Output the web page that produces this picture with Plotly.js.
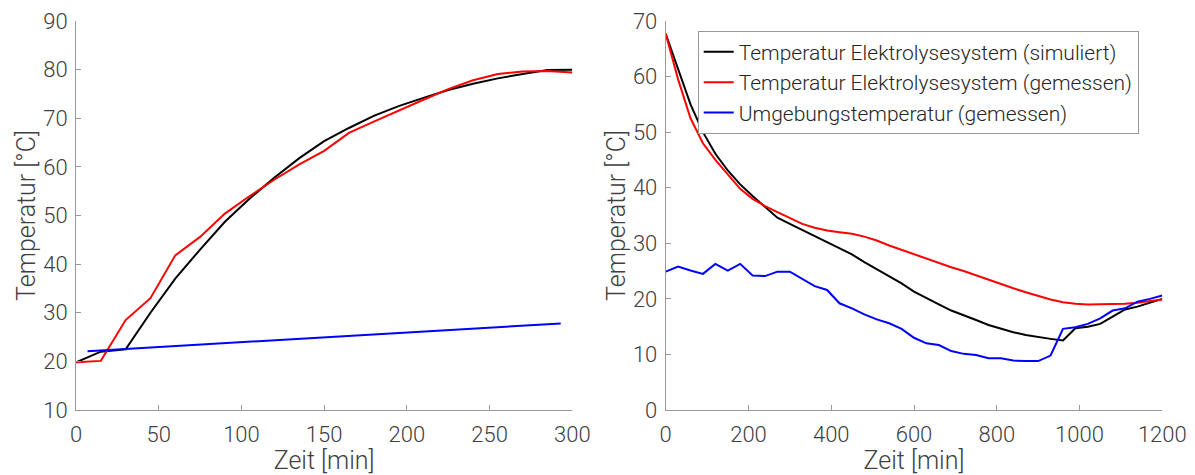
<!DOCTYPE html>
<html>
<head>
<meta charset="utf-8">
<script src="https://cdn.plot.ly/plotly-3.0.1.min.js"></script>
<style>html,body{margin:0;padding:0;background:#fff;}#chart{width:1195px;height:475px;}</style>
</head>
<body>
<div id="chart"></div>
<script>
// ---- Left panel (heating), 15-min steps ----
const leftTime = [0,15,30,45,60,75,90,105,120,135,150,165,180,195,210,225,240,255,270,285,300];
const leftSim  = [19.8,22.0,22.5,30.0,37.0,43.0,48.7,53.5,57.8,61.8,65.3,68.0,70.5,72.5,74.2,75.8,77.1,78.2,79.1,79.9,80.0];
const leftMeas = [19.8,20.1,28.5,33.0,41.8,45.6,50.4,54.0,57.4,60.5,63.3,67.0,69.3,71.6,73.8,76.0,77.8,79.1,79.6,79.7,79.4];
const leftAmbTime = [7,293];
const leftAmb  = [22.1,27.8];

// ---- Right panel (cooling), 30-min steps ----
const rightTime = [0,30,60,90,120,150,180,210,240,270,300,330,360,390,420,450,480,510,540,570,600,630,660,690,720,750,780,810,840,870,900,930,960,990,1020,1050,1080,1110,1140,1170,1200];
const rightSim  = [67.7,61.2,55.0,50.0,46.1,43.1,40.6,38.5,36.6,34.6,33.5,32.4,31.3,30.3,29.2,28.0,26.6,25.3,24.0,22.8,21.3,20.1,19.0,17.9,17.1,16.2,15.3,14.6,14.0,13.5,13.1,12.8,12.5,14.7,15.0,15.5,16.8,18.1,18.6,19.3,20.0];
const rightMeas = [67.7,59.5,52.5,48.0,45.0,42.3,39.8,38.0,36.7,35.6,34.5,33.5,32.8,32.3,32.0,31.7,31.2,30.5,29.6,28.8,28.1,27.3,26.5,25.7,25.0,24.2,23.5,22.7,21.9,21.2,20.5,19.9,19.4,19.1,19.0,19.0,19.0,19.1,19.3,19.6,19.9];
const rightAmb  = [24.9,25.8,25.1,24.5,26.3,25.1,26.3,24.2,24.1,24.9,24.9,23.6,22.3,21.6,19.2,18.3,17.2,16.3,15.6,14.6,13.0,12.0,11.7,10.6,10.1,9.9,9.3,9.3,8.9,8.8,8.8,9.8,14.6,14.9,15.5,16.5,17.9,18.3,19.5,20.0,20.6];

const legendNames = ['Temperatur Elektrolysesystem (simuliert)','Temperatur Elektrolysesystem (gemessen)','Umgebungstemperatur (gemessen)'];
const colors = ['#000000','#ff0000','#0000ff'];

const lw = 2;
const traces = [
  {x: leftTime, y: leftSim, mode:'lines', line:{color:colors[0], width:lw}, showlegend:false, xaxis:'x', yaxis:'y'},
  {x: leftTime, y: leftMeas, mode:'lines', line:{color:colors[1], width:lw}, showlegend:false, xaxis:'x', yaxis:'y'},
  {x: leftAmbTime, y: leftAmb, mode:'lines', line:{color:colors[2], width:lw}, showlegend:false, xaxis:'x', yaxis:'y'},
  {x: rightTime, y: rightSim, name: legendNames[0], mode:'lines', line:{color:colors[0], width:lw}, xaxis:'x2', yaxis:'y2'},
  {x: rightTime, y: rightMeas, name: legendNames[1], mode:'lines', line:{color:colors[1], width:lw}, xaxis:'x2', yaxis:'y2'},
  {x: rightTime, y: rightAmb, name: legendNames[2], mode:'lines', line:{color:colors[2], width:lw}, xaxis:'x2', yaxis:'y2'}
];

const textColor = '#404040';
const axisColor = '#999999';
const fam = 'Roboto, "Open Sans", sans-serif';
const baseFont = {family:fam, size:22, color:textColor, weight:300};
const titleFont = {family:fam, size:25, color:textColor, weight:300};

function axis(range, dtick, domain, anchor, title, isX) {
  return {
    range: range, dtick: dtick, tick0: 0, domain: domain, anchor: anchor,
    showline: true, linecolor: axisColor, linewidth: 1,
    ticks: 'inside', ticklen: 5, tickcolor: axisColor, tickwidth: 1,
    showgrid: false, zeroline: false, automargin: false,
    tickfont: baseFont,
    ticklabelstandoff: isX ? 5 : 3,
    title: {text: title, font: titleFont, standoff: isX ? 2 : 0}
  };
}

const layout = {
  width: 1195, height: 475,
  margin: {l: 0, r: 0, t: 21, b: 65},
  paper_bgcolor: '#ffffff', plot_bgcolor: '#ffffff',
  font: baseFont,
  showlegend: true,
  xaxis: axis([0,300], 50, [76/1195, 572.3/1195], 'y', 'Zeit [min]', true),
  yaxis: axis([10,90], 10, [0,1], 'x', 'Temperatur [°C]', false),
  xaxis2: axis([0,1200], 200, [665.7/1195, 1162.3/1195], 'y2', 'Zeit [min]', true),
  yaxis2: axis([0,70], 10, [0,1], 'x2', 'Temperatur [°C]', false),
  legend: {
    x: 697.7/1195, y: (410-30.7)/389, xanchor: 'left', yanchor: 'top',
    bordercolor: '#999999', borderwidth: 1, bgcolor: '#ffffff',
    font: {family:fam, size:21, color:'#262626', weight:300},
    tracegroupgap: 0
  }
};

Plotly.newPlot('chart', traces, layout, {staticPlot: true, displayModeBar: false});
</script>
</body>
</html>
